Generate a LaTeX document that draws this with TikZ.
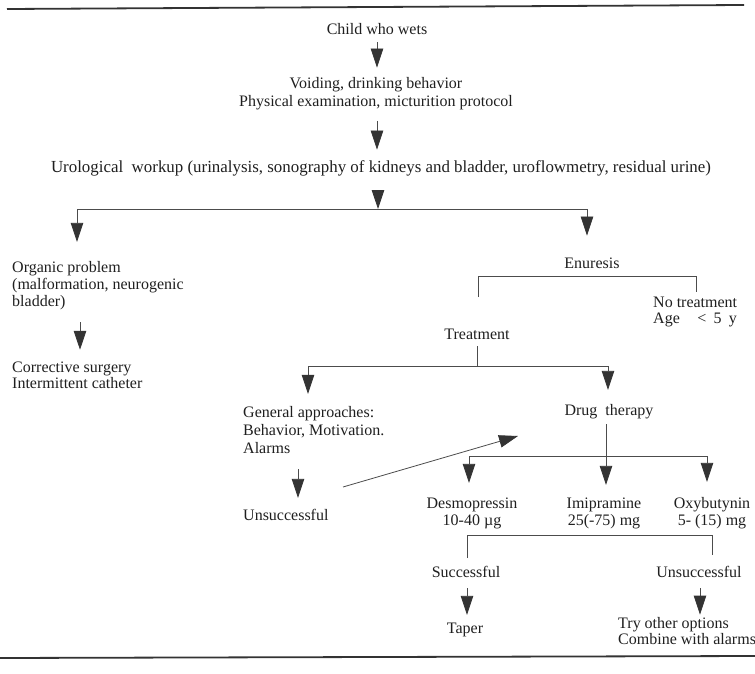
\documentclass[tikz,border=0pt]{standalone}
\usepackage{fontspec}
\setmainfont{Liberation Serif}
\usetikzlibrary{arrows.meta,calc}
\newcommand{\stkC}[1]{\begin{tabular}[t]{@{}c@{}}#1\end{tabular}}
\newcommand{\stkL}[1]{\begin{tabular}[t]{@{}l@{}}#1\end{tabular}}
\begin{document}
\begin{tikzpicture}[x=1pt,y=-1pt,
  txt/.style={inner sep=2pt,text=black!88,font=\fontsize{16}{17.5}\selectfont},
  one/.style={txt,text height=12.25pt,text depth=5.25pt},
  ln/.style={draw=black!70,line width=0.8pt},
  arr/.style={ln,-{Triangle[width=12.5pt,length=19pt,fill=black!80,color=black!80]}},
  rulebar/.style={draw=black!80,line width=1.8pt}]
\useasboundingbox (0,0) rectangle (755,674);

% rules
\draw[rulebar] (7,9) -- (744,5);
\draw[rulebar] (0,658) -- (755,656);

% nodes
\node[one,anchor=base] (child) at (377,35) {Child who wets};
\node[txt,anchor=base] (void) at (376,89) {\stkC{Voiding, drinking behavior\\Physical examination, micturition protocol}};
\node[one,anchor=base,font=\fontsize{16.9}{17.5}\selectfont] (uro) at (381,172) {Urological\ \ workup (urinalysis, sonography of kidneys and bladder, uroflowmetry, residual urine)};
\node[txt,anchor=base west,font=\fontsize{16}{17}\selectfont] (organic) at (10,272) {\stkL{Organic problem\\(malformation, neurogenic\\bladder)}};
\node[txt,anchor=base west,font=\fontsize{16}{16.5}\selectfont] (surgery) at (10,372) {\stkL{Corrective surgery\\Intermittent catheter}};
\node[one,anchor=base] (enuresis) at (592,268) {Enuresis};
\node[txt,anchor=base west,font=\fontsize{16}{16}\selectfont] (notreat) at (651,307) {\stkL{No treatment\\Age\hspace{1.1em}<\hspace{0.45em}5\hspace{0.45em}y}};
\node[one,anchor=base] (treat) at (477,339) {Treatment};
\node[txt,anchor=base west,font=\fontsize{16}{18}\selectfont] (genapp) at (241,417) {\stkL{General approaches:\\Behavior, Motivation.\\Alarms}};
\node[one,anchor=base west] (unsucc1) at (241,520) {Unsuccessful};
\node[one,anchor=base] (drug) at (609,415) {Drug\ \ therapy};
\node[txt,anchor=base] (desmo) at (472,508) {\stkC{Desmopressin\\10-40 µg}};
\node[txt,anchor=base] (imi) at (604,508) {\stkC{Imipramine\\25(-75) mg}};
\node[txt,anchor=base] (oxy) at (712,508) {\stkC{Oxybutynin\\5- (15) mg}};
\node[one,anchor=base] (succ) at (466,577) {Successful};
\node[one,anchor=base] (unsucc2) at (699,577) {Unsuccessful};
\node[one,anchor=base] (taper) at (465,633) {Taper};
\node[txt,anchor=base west,font=\fontsize{16}{16}\selectfont] (tryother) at (616,628) {\stkL{Try other options\\Combine with alarms}};

% junction coordinates
\coordinate (j1) at (378,209);
\coordinate (jL) at (77,209);
\coordinate (jR) at (587,209);
\coordinate (oX) at (80,0);
\coordinate (eL) at (478,276);
\coordinate (eR) at (696,276);
\coordinate (eLb) at (478,297);
\coordinate (eRb) at (696,292);
\coordinate (tL) at (308,366);
\coordinate (tR) at (608,366);
\coordinate (gX) at (298,0);
\coordinate (dgA) at (343,487);
\coordinate (dgB) at (518,436);
\coordinate (dX) at (606,0);
\coordinate (dL) at (469,456);
\coordinate (dR) at (707,456);
\coordinate (sL) at (467,535);
\coordinate (sR) at (712,535);
\coordinate (sLb) at (467,558);
\coordinate (sRb) at (712,555);
\coordinate (uX) at (700,0);

% connectors
\draw[arr,shorten >=7pt] (child.south) -- (child.south |- void.north);
\draw[arr,shorten <=7pt,shorten >=8pt] (void.south -| child) -- (uro.north -| child);
\draw[arr,shorten <=14pt] (uro.south -| j1) -- (j1);
\draw[ln] (jL) -- (jR);
\draw[arr,shorten >=16pt] (jL) -- (jL |- organic.north);
\draw[arr,shorten >=18pt] (jR) -- (jR |- enuresis.north);
\draw[arr,shorten <=9pt,shorten >=8.5pt] (organic.south -| oX) -- (surgery.north -| oX);

\draw[ln] (eLb) -- (eL) -- (eR) -- (eRb);

\draw[ln] (treat.south) -- (treat.south |- tL);
\draw[ln] (tL) -- (tR);
\draw[arr,shorten >=8.4pt] (tL) -- (tL |- genapp.north);
\draw[arr,shorten >=10.7pt] (tR) -- (tR |- drug.north);
\draw[arr,shorten <=8.6pt,shorten >=7.7pt] (genapp.south -| gX) -- (unsucc1.north -| gX);
\draw[arr] (dgA) -- (dgB);

\draw[arr,shorten <=2pt,shorten >=8.7pt] (drug.south -| dX) -- (imi.north -| dX);
\draw[ln] (dL) -- (dR);
\draw[arr,shorten >=10.7pt] (dL) -- (dL |- desmo.north);
\draw[arr,shorten >=11.7pt] (dR) -- (dR |- oxy.north);

\draw[ln] (sLb) -- (sL) -- (sR) -- (sRb);
\draw[arr,shorten <=4pt,shorten >=3.7pt] (succ.south -| sL) -- (taper.north -| sL);
\draw[arr,shorten <=4pt] (unsucc2.south -| uX) -- (tryother.north -| uX);
\end{tikzpicture}
\end{document}
